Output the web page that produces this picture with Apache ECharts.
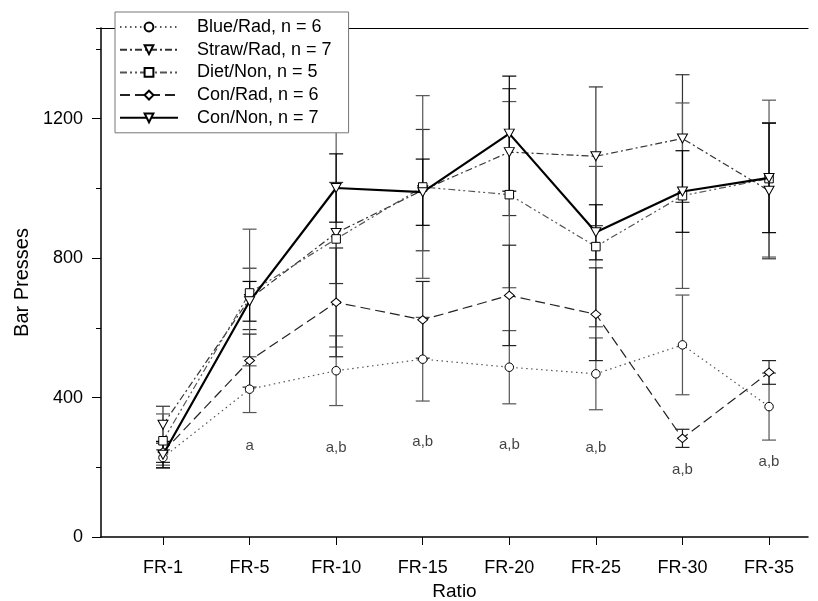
<!DOCTYPE html>
<html>
<head>
<meta charset="utf-8">
<script src="https://cdn.jsdelivr.net/npm/echarts@6/dist/echarts.min.js"></script>
<style>
  html, body { margin: 0; padding: 0; background: #fff; }
  #chart { width: 818px; height: 601px; }
</style>
</head>
<body>
<div id="chart"></div>
<script>
// categories on the x axis
const categories = ['FR-1', 'FR-5', 'FR-10', 'FR-15', 'FR-20', 'FR-25', 'FR-30', 'FR-35'];

// group means and standard errors
const blueRadMean = [228, 424, 477, 510, 487, 468, 551, 374];
const blueRadErr = [22, 67, 100, 120, 105, 103, 143, 96];
const strawRadMean = [322, 683, 872, 995, 1104, 1092, 1143, 993];
const strawRadErr = [53, 88, 145, 174, 182, 199, 183, 195];
const dietNonMean = [276, 700, 855, 1004, 982, 833, 979, 1028];
const dietNonErr = [77, 183, 310, 262, 267, 230, 266, 225];
const conRadMean = [244, 506, 673, 623, 693, 639, 283, 472];
const conRadErr = [30, 76, 156, 110, 144, 133, 26, 34];
const conNonMean = [236, 676, 1001, 989, 1157, 874, 991, 1030];
const conNonErr = [38, 57, 98, 95, 165, 79, 117, 157];

// significance letters and the value where they sit
const sigLabels = ['', 'a', 'a,b', 'a,b', 'a,b', 'a,b', 'a,b', 'a,b'];
const sigLabelY = [0, 261, 256, 273, 264, 256, 192, 215];

const font = 'Liberation Sans, Arial, sans-serif';

const groups = [
  { name: 'Blue/Rad, n = 6', mean: blueRadMean, err: blueRadErr, symbol: 'circle', size: 8.5, rotate: 0, color: '#555', width: 1.2, dash: [1.5, 3.5] },
  { name: 'Straw/Rad, n = 7', mean: strawRadMean, err: strawRadErr, symbol: 'triangle', size: [10, 9], rotate: 180, color: '#333', width: 1.2, dash: [7, 3, 2, 3] },
  { name: 'Diet/Non, n = 5', mean: dietNonMean, err: dietNonErr, symbol: 'rect', size: 8.5, rotate: 0, color: '#555', width: 1.2, dash: [7, 3, 2, 3, 2, 3] },
  { name: 'Con/Rad, n = 6', mean: conRadMean, err: conRadErr, symbol: 'diamond', size: [10, 8.5], rotate: 0, color: '#222', width: 1.2, dash: [10, 5] },
  { name: 'Con/Non, n = 7', mean: conNonMean, err: conNonErr, symbol: 'triangle', size: [10, 9], rotate: 180, color: '#000', width: 2.2, dash: 'solid' }
];

const chart = echarts.init(document.getElementById('chart'));

function errorBar(color) {
  return function (params, api) {
    const x = api.value(0);
    const lo = api.coord([x, api.value(1)]);
    const hi = api.coord([x, api.value(2)]);
    const half = 7;
    const style = { stroke: color, lineWidth: 1.2 };
    return {
      type: 'group',
      children: [
        { type: 'line', shape: { x1: lo[0], y1: lo[1], x2: hi[0], y2: hi[1] }, style: style },
        { type: 'line', shape: { x1: lo[0] - half, y1: lo[1], x2: lo[0] + half, y2: lo[1] }, style: style },
        { type: 'line', shape: { x1: hi[0] - half, y1: hi[1], x2: hi[0] + half, y2: hi[1] }, style: style }
      ]
    };
  };
}

const series = [];
groups.forEach(function (g) {
  series.push({
    type: 'custom',
    silent: true,
    z: 1,
    renderItem: errorBar(g.color),
    data: g.mean.map(function (m, i) { return [i, m - g.err[i], m + g.err[i]]; })
  });
});
groups.forEach(function (g, k) {
  series.push({
    name: g.name,
    type: 'line',
    z: 2 + k,
    data: g.mean.map(function (m, i) { return [i, m]; }),
    symbol: g.symbol,
    symbolSize: g.size,
    symbolRotate: g.rotate,
    showAllSymbol: true,
    lineStyle: { color: g.color, width: g.width, type: g.dash },
    itemStyle: { color: '#fff', borderColor: '#000', borderWidth: 1 },
    emphasis: { disabled: true }
  });
});
series.push({
  type: 'scatter',
  silent: true,
  symbolSize: 0,
  data: sigLabels.map(function (s, i) { return [i, sigLabelY[i], s]; }),
  label: {
    show: true,
    position: 'inside',
    formatter: function (p) { return p.value[2]; },
    color: '#111',
    fontSize: 15,
    fontFamily: font
  }
});

chart.setOption({
  animation: false,
  backgroundColor: '#fff',
  grid: { left: 101, right: 10, top: 28, bottom: 64, outerBoundsMode: 'none' },
  legend: {
    data: groups.map(function (g) { return g.name; }),
    orient: 'vertical',
    left: 115,
    top: 12,
    padding: [6, 17, 6, 4],
    itemWidth: 58,
    itemHeight: 11,
    itemGap: 4.7,
    backgroundColor: '#fff',
    borderColor: '#777',
    borderWidth: 1,
    textStyle: { fontSize: 18, lineHeight: 18, fontFamily: font, color: '#000', padding: [0, 0, 0, 14] },
    z: 10
  },
  xAxis: [{
    type: 'value',
    min: -0.716,
    max: 7.45,
    name: 'Ratio',
    nameLocation: 'middle',
    nameGap: 42,
    nameTextStyle: { fontSize: 19, fontFamily: font, color: '#000' },
    axisLine: { onZero: false, lineStyle: { color: '#000', width: 1.5 } },
    axisTick: { customValues: [0, 1, 2, 3, 4, 5, 6, 7], length: 8, lineStyle: { color: '#000' } },
    axisLabel: {
      customValues: [0, 1, 2, 3, 4, 5, 6, 7],
      formatter: function (v) { return categories[Math.round(v)]; },
      fontSize: 18, fontFamily: font, color: '#000', margin: 22
    },
    splitLine: { show: false }
  }, {
    type: 'value',
    position: 'top',
    min: -0.716,
    max: 7.45,
    axisLine: { show: true, onZero: false, lineStyle: { color: '#000', width: 1.2 } },
    axisTick: { show: false },
    axisLabel: { show: false },
    splitLine: { show: false }
  }],
  yAxis: [{
    type: 'value',
    min: 0,
    max: 1460,
    interval: 400,
    name: 'Bar Presses',
    nameLocation: 'middle',
    nameGap: 65,
    nameTextStyle: { fontSize: 20, fontFamily: font, color: '#000' },
    axisLine: { show: true, onZero: false, lineStyle: { color: '#000', width: 1.5 } },
    axisTick: { show: true, length: 9, lineStyle: { color: '#000' } },
    axisLabel: {
      fontSize: 18, fontFamily: font, color: '#000', margin: 18, showMaxLabel: false,
      formatter: function (v) { return String(v); }
    },
    splitLine: { show: false }
  }, {
    type: 'value',
    position: 'left',
    min: 0,
    max: 1460,
    interval: 200,
    axisLine: { show: false, onZero: false },
    axisTick: { show: true, length: 5, lineStyle: { color: '#000' } },
    axisLabel: { show: false },
    splitLine: { show: false }
  }],
  series: series
});
</script>
</body>
</html>
